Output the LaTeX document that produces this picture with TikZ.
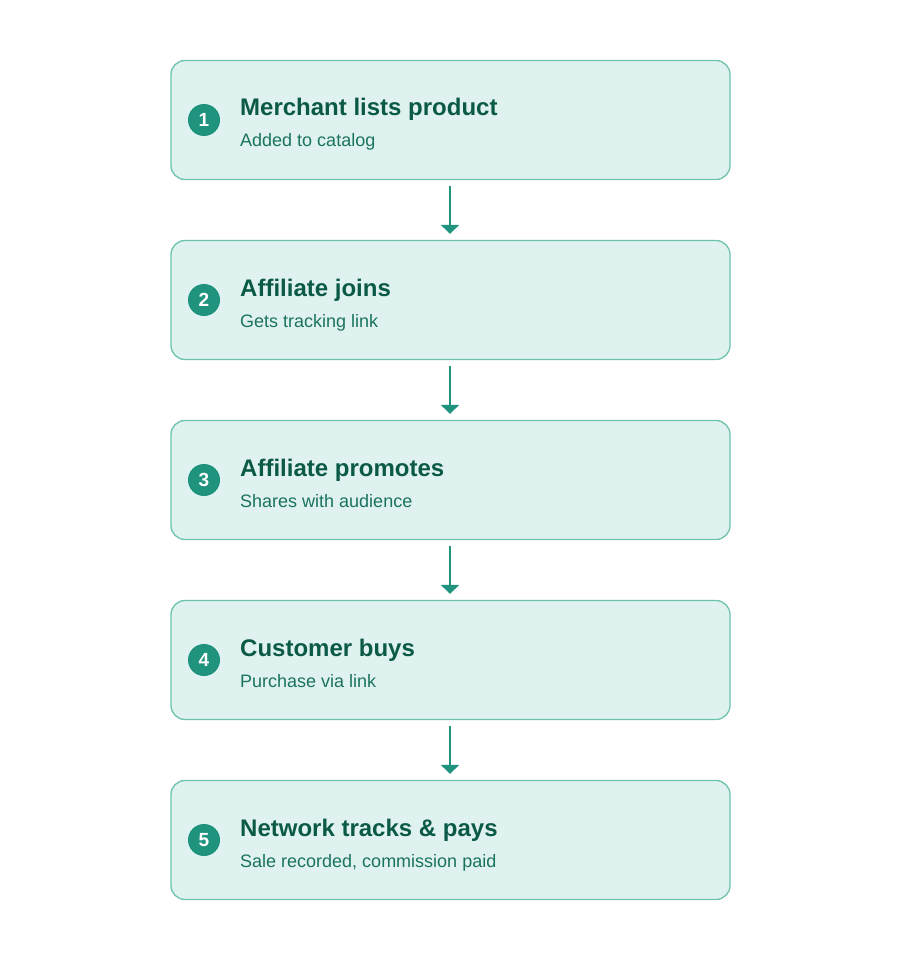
\documentclass[tikz,border=0pt]{standalone}
\usepackage{fontspec}
\setmainfont{Liberation Sans}
\usetikzlibrary{arrows.meta}
\definecolor{boxfill}{HTML}{E0F2EF}
\definecolor{boxline}{HTML}{6CC4AE}
\definecolor{dot}{HTML}{20937E}
\definecolor{ttl}{HTML}{0B5A48}
\definecolor{sub}{HTML}{1A7360}
\begin{document}
\begin{tikzpicture}[x=1pt,y=-1pt,
  box/.style={draw=boxline,line width=1.3pt,fill=boxfill,rounded corners=14pt,minimum width=559pt,minimum height=119pt,inner sep=0pt},
  num/.style={circle,fill=dot,minimum size=32pt,inner sep=0pt,text=white,font=\fontsize{19}{19}\selectfont\bfseries},
  ttl/.style={anchor=base west,text=ttl,font=\fontsize{24}{24}\selectfont\bfseries,inner sep=0pt},
  sub/.style={anchor=base west,text=sub,font=\fontsize{18}{18}\selectfont,inner sep=0pt},
  arr/.style={draw=dot,line width=2.2pt,-{Triangle[width=18pt,length=9pt]}}]
\useasboundingbox (0,0) rectangle (900,960);
\foreach \i/\t/\s in {1/Merchant lists product/Added to catalog,2/Affiliate joins/Gets tracking link,3/Affiliate promotes/Shares with audience,4/Customer buys/Purchase via link,5/Network tracks \& pays/{Sale recorded, commission paid}}{
  \pgfmathsetmacro{\yc}{120+180*(\i-1)}
  \node[box] (b\i) at (450.5,\yc) {};
  \node[num] (n\i) at (204,\yc) {\i};
  \node[ttl] (t\i) at (240,\yc-4) {\t};
  \node[sub] (s\i) at (240,\yc+27) {\s};
}
\foreach \i/\j in {1/2,2/3,3/4,4/5}{
  \draw[arr] ([yshift=-6pt]b\i.south -| 450,0) -- ([yshift=6pt]b\j.north -| 450,0);
}
\end{tikzpicture}
\end{document}
